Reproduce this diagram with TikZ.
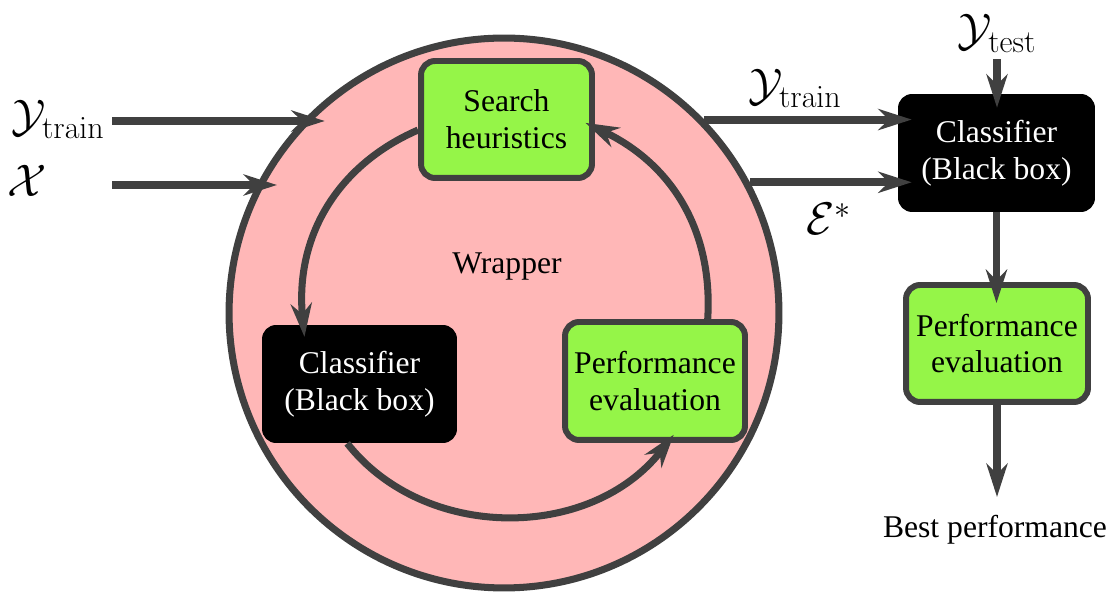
\RequirePackage{fix-cm}
\documentclass[tikz,border=0pt]{standalone}
\usepackage[no-math]{fontspec}
\setmainfont{Liberation Serif}
\newfontfamily\boxfont{Liberation Serif}
\usepackage{tikz}
\usetikzlibrary{arrows.meta, calc}
\definecolor{wpink}{HTML}{FFB7B7}
\definecolor{wgreen}{HTML}{95F548}
\definecolor{wgray}{HTML}{404040}

\begin{document}
\begin{tikzpicture}[x=0.02cm, y=0.02cm,
  txt/.style={font=\boxfont\fontsize{18}{21}\selectfont},
  box/.style={txt, rounded corners=8pt, minimum height=2.36cm, align=center, inner sep=0pt},
  greenbox/.style={box, fill=wgreen, draw=wgray, line width=3.4pt},
  blackbox/.style={box, fill=black, text=white},
  lbl/.style={font=\fontsize{26}{30}\selectfont, inner sep=4pt},
  arr/.style={draw=wgray, line width=4.5pt, -{Stealth[length=19pt, width=12pt, inset=6pt]}},
  loopline/.style={arr, line width=4pt}]
\useasboundingbox (0,0) rectangle (1116,-597);
% wrapper
\node[circle, fill=wpink, draw=wgray, line width=4pt, minimum size=11cm, inner sep=0pt]
  (wrapper) at (504,-313) {};
\node[txt] (wraplbl) at (507,-267) {Wrapper};
\node[greenbox, minimum width=3.42cm, minimum height=2.34cm] (search) at (506.5,-119.5) {Search\\heuristics};
\node[blackbox, minimum width=3.9cm] (clf) at (359.5,-384) {Classifier\\(Black box)};
\node[greenbox, minimum width=3.6cm] (perf) at (655,-381) {Performance\\evaluation};
% right side
\node[blackbox, minimum width=3.94cm] (clfR) at (996.5,-153) {Classifier\\(Black box)};
\node[greenbox, minimum width=3.64cm, minimum height=2.34cm] (perfR) at (997,-343.5) {Performance\\evaluation};
\node[txt] (best) at (995,-530) {Best performance};
% labels
\node[lbl] (ytrL) at (58,-119) {$\mathcal{Y}_{\mathrm{train}}$};
\node[lbl] (xL) at (27,-181) {$\mathcal{X}$};
\node[lbl] (ytrR) at (795,-88) {$\mathcal{Y}_{\mathrm{train}}$};
\node[lbl] (estar) at (829,-219) {$\mathcal{E}^{*}$};
\node[lbl] (yte) at (997,-33) {$\mathcal{Y}_{\mathrm{test}}$};
% inputs
\coordinate (inY) at (112,-121);
\coordinate (inX) at (112,-185);
\draw[arr, shorten >=-12pt] (inY) -- (inY -| wrapper.136);
\draw[arr, shorten >=-12pt] (inX) -- (inX -| wrapper.153);
% outputs
\draw[arr, shorten >=-8pt] (wrapper.44) -- (wrapper.44 -| clfR.west);
\draw[arr, shorten >=-8pt] (wrapper.28) -- (wrapper.28 -| clfR.west);
\draw[arr, shorten >=-8pt] (yte.south) -- (yte.south |- clfR.north);
\draw[arr, shorten >=-12pt] (clfR.south) -- (clfR.south |- perfR.north);
\draw[arr, shorten >=7pt] (perfR.south) -- (perfR.south |- best.north);
% loop
\draw[loopline, shorten >=-7pt] ([yshift=-6pt]search.west) to[bend right=36] ([xshift=-32pt]clf.north);
\draw[loopline, shorten >=-6pt] ([xshift=-7pt]clf.south) to[bend right=52] ([xshift=7pt]perf.south);
\draw[loopline, shorten >=-6pt] ([xshift=30pt]perf.north) to[bend right=34] ([yshift=-4.5pt]search.east);
\end{tikzpicture}
\end{document}
